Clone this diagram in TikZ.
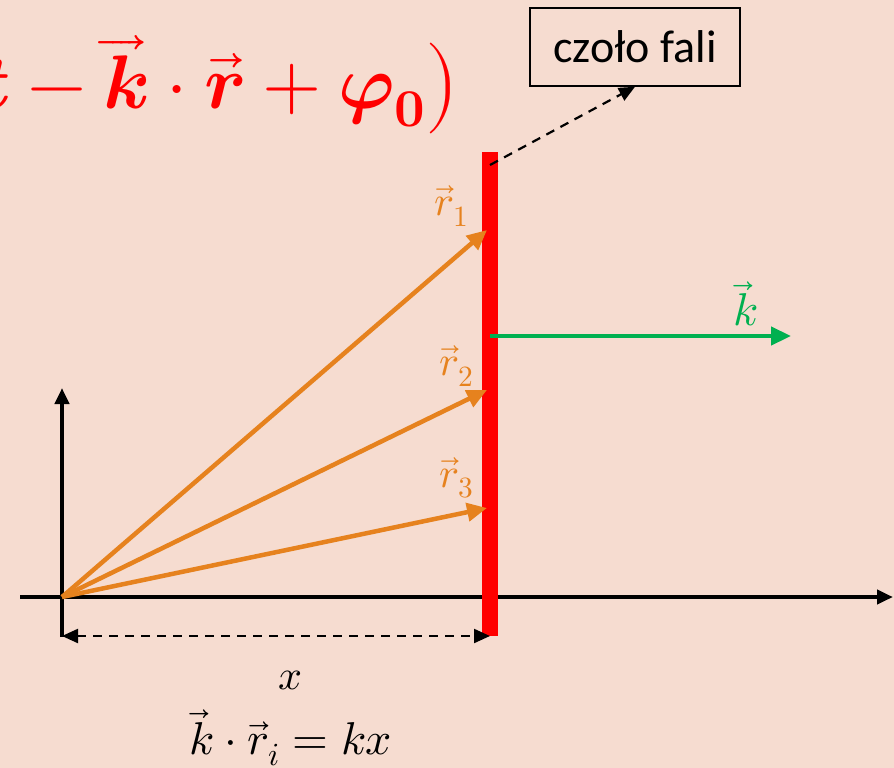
\documentclass[tikz,border=0pt]{standalone}
\usepackage{amsmath}
\usepackage{fontspec}
\usepackage{unicode-math}
\setmathfont{Latin Modern Math}
\newfontfamily\labelfont{Carlito}
\usetikzlibrary{arrows.meta}
\definecolor{bgpeach}{RGB}{246,220,208}
\definecolor{vorange}{RGB}{230,130,30}
\definecolor{vgreen}{RGB}{0,176,80}
\tikzset{
  axis/.style={line width=4.5pt,-{Triangle[length=16pt,width=14pt]}},
  rvec/.style={draw=vorange,line width=4.5pt,-{Triangle[length=20pt,width=18pt]}},
  kvec/.style={draw=vgreen,line width=4.5pt,-{Triangle[length=20pt,width=18pt]}},
  dimline/.style={line width=2.2pt,dash pattern=on 9pt off 7pt,{Triangle[length=16pt,width=14pt]}-{Triangle[length=16pt,width=14pt]}},
  callout/.style={line width=2.2pt,dash pattern=on 9pt off 7pt,-{Triangle[length=16pt,width=14pt]}},
  lab/.style={inner sep=0pt},
}
\begin{document}
\begin{tikzpicture}[x=1pt,y=-1pt]
\fill[bgpeach] (0,0) rectangle (894,768);
\useasboundingbox (0,0) rectangle (894,768);
\clip (0,0) rectangle (894,768);
% title formula (cut at left edge)
\node[lab,anchor=base east,text=red] (title) at (461,108)
  {\fontsize{76}{84}\selectfont$\symbfit{t}-\overrightarrow{\symbfit{k}}\cdot\overrightarrow{\symbfit{r}}+\symbfit{\varphi}_{\symbf{0}}\big)$};
% axes
\coordinate (O) at (62,597);
\coordinate (xs) at (20,597);
\coordinate (xe) at (893,597);
\coordinate (ys) at (62,637);
\coordinate (ye) at (62,388);
\draw[axis] (xs) -- (xe);
\draw[axis] (ys) -- (ye);
% wavefront
\node[fill=red,minimum width=16pt,minimum height=484pt,inner sep=0pt] (front) at (490,394) {};
% r vectors
\coordinate (p1) at (487,230);
\coordinate (p2) at (487,390);
\coordinate (p3) at (487,508);
\draw[rvec] (O) -- (p1);
\draw[rvec] (O) -- (p2);
\draw[rvec] (O) -- (p3);
\node[lab,text=vorange] (r1) at (452,206) {\fontsize{42}{48}\selectfont$\vec{r}_1$};
\node[lab,text=vorange] (r2) at (457,366) {\fontsize{42}{48}\selectfont$\vec{r}_2$};
\node[lab,text=vorange] (r3) at (457,478) {\fontsize{42}{48}\selectfont$\vec{r}_3$};
% k vector
\coordinate (k0) at (490,336);
\coordinate (k1) at (791,336);
\draw[kvec] (k0) -- (k1);
\node[lab,text=vgreen] (klab) at (746,304) {\fontsize{46}{52}\selectfont$\vec{k}$};
% dimension x
\coordinate (d0) at (62,636);
\coordinate (d1) at (490,636);
\draw[dimline] (d0) -- (d1);
\node[lab] (xlab) at (291,680) {\fontsize{42}{48}\selectfont$x$};
\node[lab] (eq) at (291,738) {\fontsize{46}{52}\selectfont$\vec{k}\cdot\vec{r}_i=kx$};
% callout
\node[draw,line width=1.5pt,minimum width=210pt,minimum height=78pt,inner sep=0pt,font=\labelfont\fontsize{46}{52}\selectfont] (czolo) at (635,47) {czoło fali};
\coordinate (c0) at (490,165);
\draw[callout] (c0) -- (czolo.south);
\end{tikzpicture}
\end{document}
